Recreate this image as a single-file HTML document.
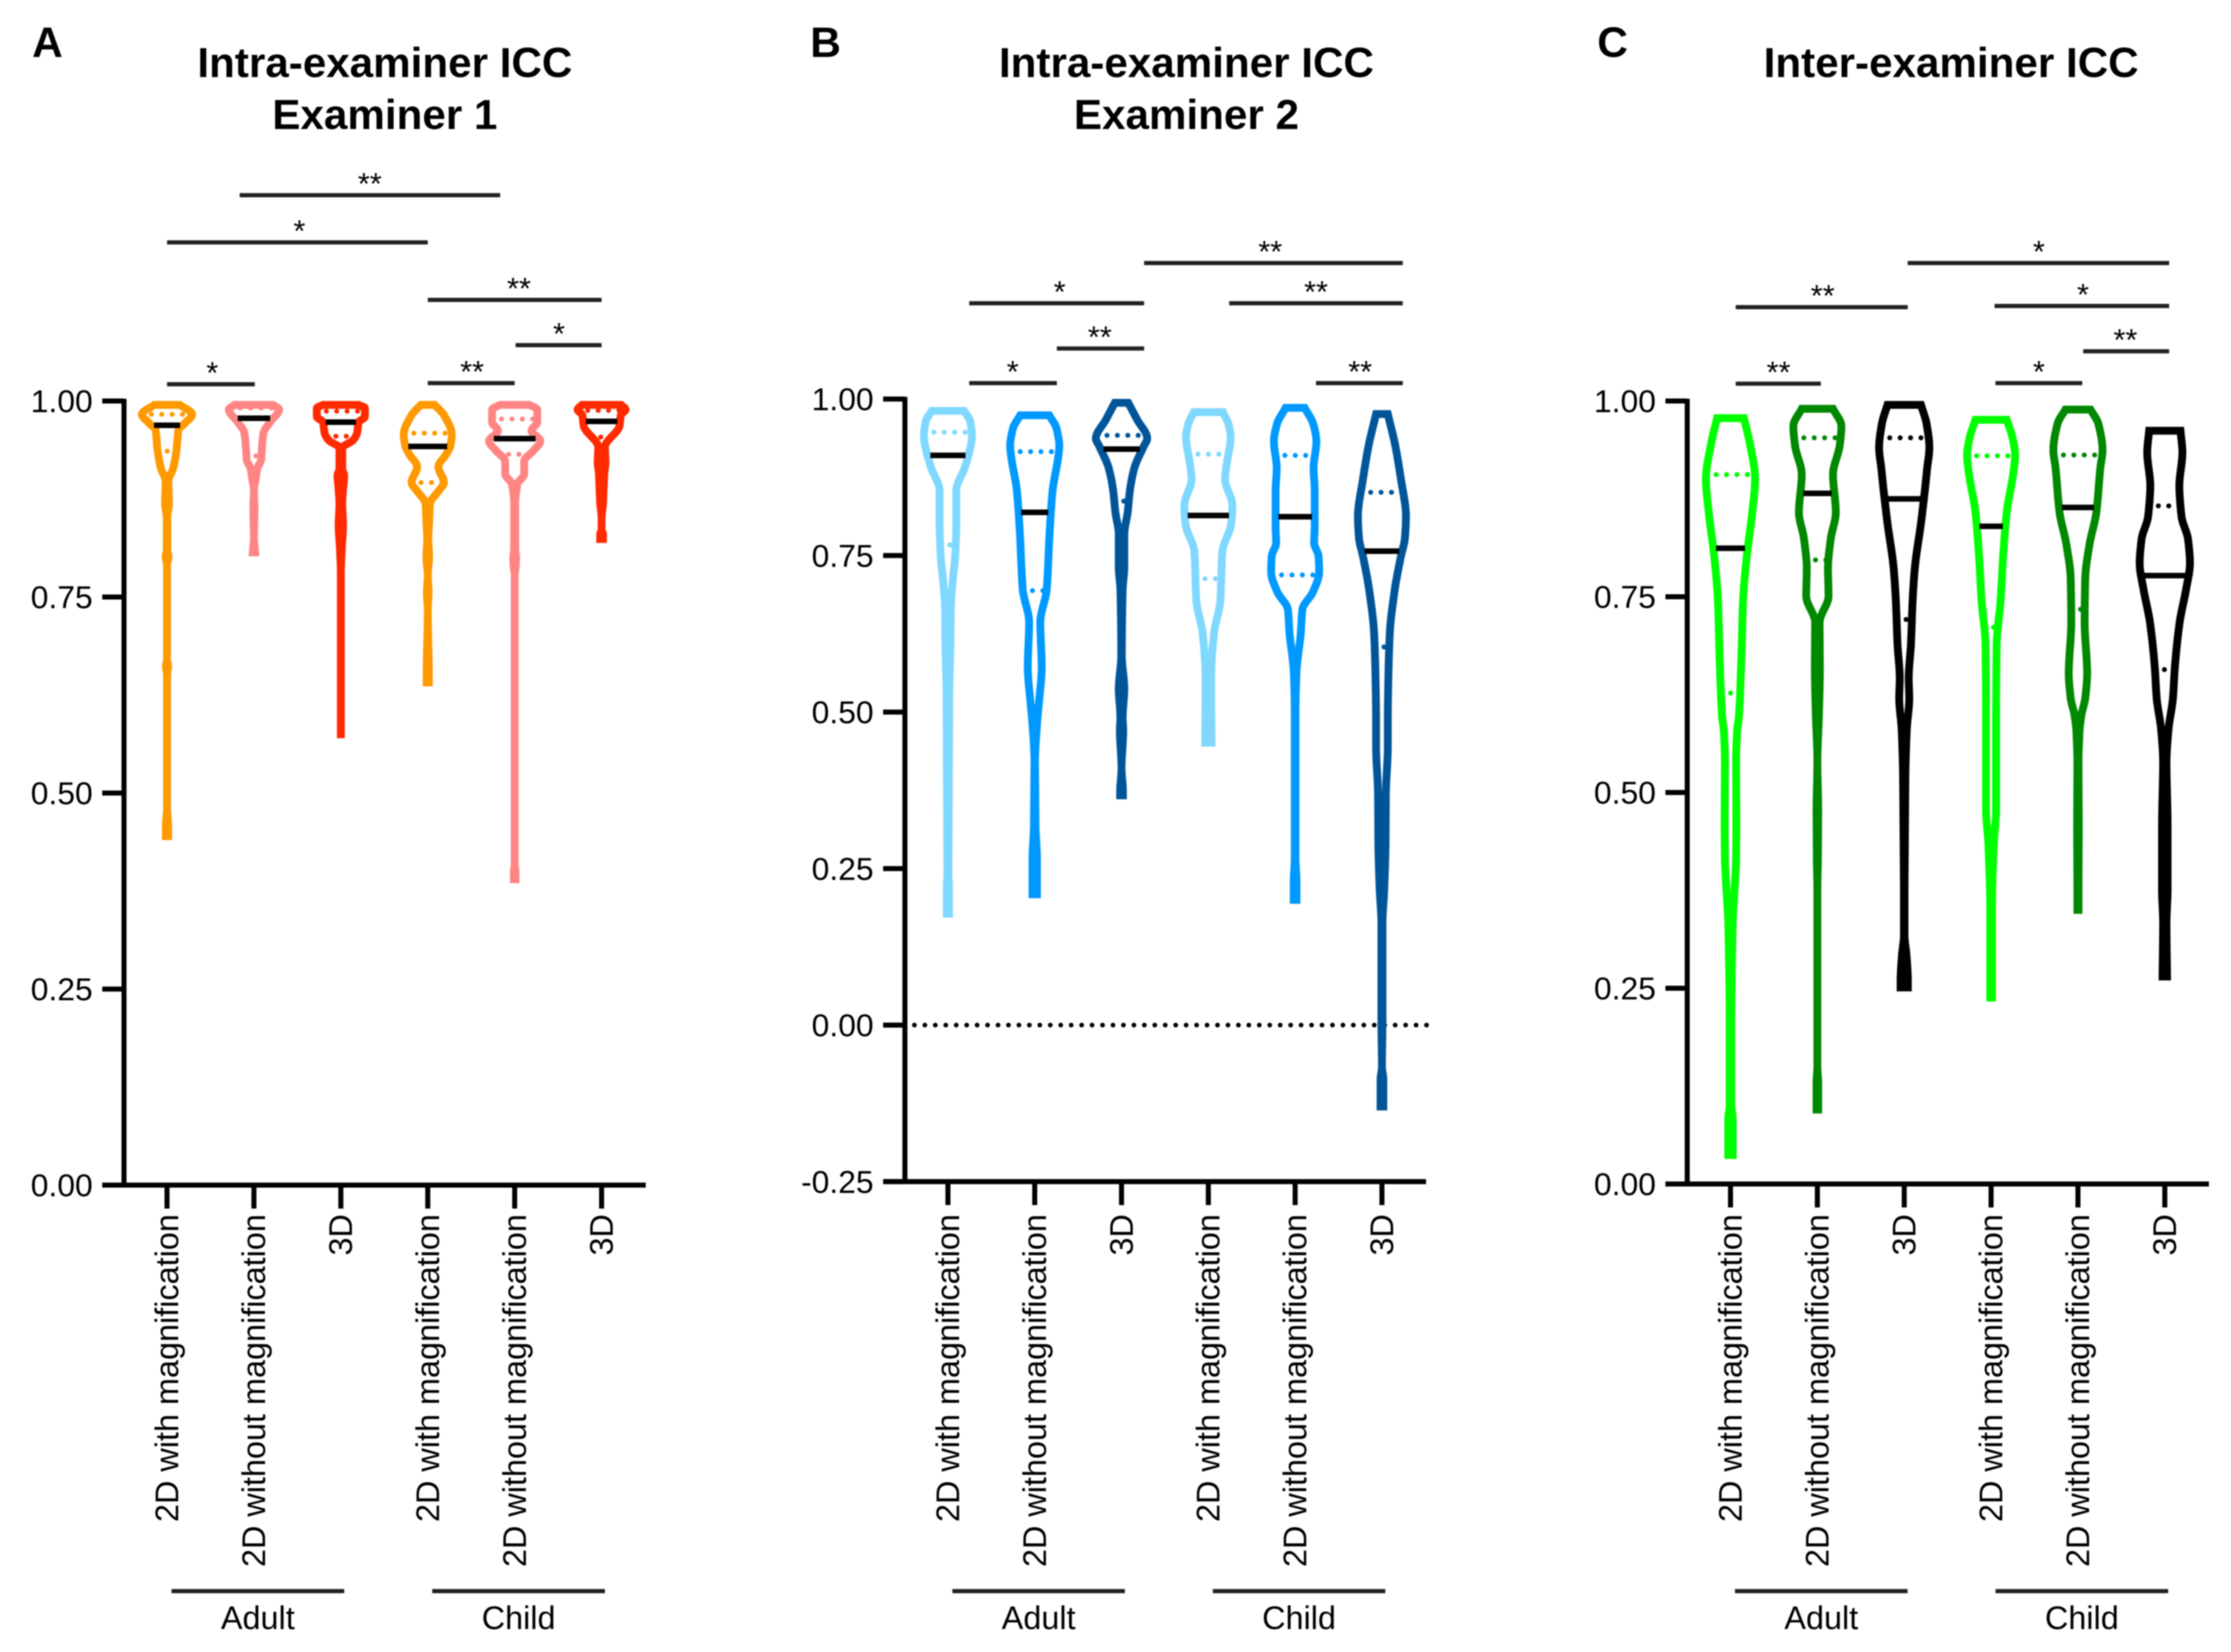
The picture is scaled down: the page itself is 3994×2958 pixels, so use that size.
<!DOCTYPE html>
<html lang="en">
<head>
<meta charset="utf-8">
<title>Intra- and inter-examiner ICC violin plots</title>
<style>
html,body{margin:0;padding:0;background:#fff;width:3994px;height:2958px;overflow:hidden}
svg{display:block;filter:blur(1.1px)}
text{font-family:"Liberation Sans",Arial,sans-serif;fill:#000}
.title{font-size:75.5px;font-weight:bold;text-anchor:middle}
.letter{font-size:76px;font-weight:bold;text-anchor:middle}
</style>
</head>
<body>
<svg id="figure" width="3994" height="2958" viewBox="0 0 3994 2958">
  <rect x="0" y="0" width="3994" height="2958" fill="#fff"/>
  <text class="letter" x="85" y="102">A</text>
  <text class="letter" x="1478" y="102">B</text>
  <text class="letter" x="2887" y="102">C</text>
  <text class="title" x="689" y="138">Intra-examiner ICC</text>
  <text class="title" x="689" y="231">Examiner 1</text>
  <text class="title" x="2124" y="138">Intra-examiner ICC</text>
  <text class="title" x="2124" y="231">Examiner 2</text>
  <text class="title" x="3493" y="138">Inter-examiner ICC</text>
</svg>
<script>
// ---- shared categories and tick labels ----
const categories = ['2D with magnification','2D without magnification','3D','2D with magnification','2D without magnification','3D'];
const groupLabels = ['Adult','Child'];
const groupStarts = [0,3];
const groupEnds = [2,5];
const ticksAC = [0,0.25,0.5,0.75,1];
const tickLabelsAC = ['0.00','0.25','0.50','0.75','1.00'];
const ticksB = [-0.25,0,0.25,0.5,0.75,1];
const tickLabelsB = ['-0.25','0.00','0.25','0.50','0.75','1.00'];

// ---- panel A series: value levels and density at each level ----
const a1Levels = [.995,.983,.971,.963,.937,.914,.898,.869,.851,.810,.801,.790,.670,.662,.650,.480,.460,.445];
const a1Density = [30,52,38,27.5,24,18,9.5,10.5,7.5,7.5,9.5,7,7,9,7,7,9,9];
const a2Levels = [.995,.989,.974,.959,.937,.925,.914,.900,.887,.864,.824,.812,.807];
const a2Density = [41.5,52,37,24,21,20,13,10,7,8,7,8.5,9];
const a3Levels = [.995,.991,.980,.973,.959,.950,.940,.914,.905,.887,.869,.842,.812,.780,.570];
const a3Density = [39,50,50,39,36,29,9.5,9.5,13,11,9.5,11,8.7,6.7,6.7];
const a4Levels = [.995,.982,.957,.943,.932,.916,.896,.885,.869,.846,.824,.801,.778,.756,.733,.650,.641];
const a4Density = [19.5,36,50,47.5,40,26,36,26,11,9.5,8,9.5,7,8.5,7,9,9];
const a5Levels = [.995,.989,.973,.962,.949,.937,.923,.907,.894,.869,.810,.801,.790,.778,.410,.400,.390];
const a5Density = [33.5,47.5,47.5,37,53,41,24,24,12,8,8,9.5,9,7,7,8.5,8.5];
const a6Levels = [.995,.989,.982,.968,.941,.921,.909,.869,.851,.835,.831,.824];
const a6Density = [42,50,41.5,39,13,14,12,9.5,6.7,7,9.5,9.5];
const aMedians = [.969,.978,.973,.942,.952,.974];
const aUpperQuartiles = [.983,.991,.987,.959,.977,.988];
const aLowerQuartiles = [.936,.930,.955,.896,.932,.954];

// ---- panel B series ----
const b1Levels = [.981,.964,.939,.918,.890,.854,.802,.749,.713,.664,.608,.537,.240,.223,.178];
const b1Density = [36,47,50,46,37,22,22,20,16,12,11.5,9.5,8,9,9];
const b2Levels = [.974,.953,.925,.907,.854,.784,.696,.643,.572,.519,.491,.420,.317,.266,.209];
const b2Density = [33,46,51,49,39,33.5,28.5,17,19.5,15,12,7.5,8.5,11,11];
const b3Levels = [.994,.967,.937,.925,.890,.854,.819,.784,.731,.696,.590,.537,.491,.471,.410,.374,.367];
const b3Density = [19,35,53,47,30,22,18,12,12,9,7.5,12,9,10,7,9.5,9.5];
const b4Levels = [.979,.960,.939,.897,.872,.830,.801,.756,.678,.625,.555,.519,.451];
const b4Density = [33,43,47,40,37,50,48,32,28.5,17,12,12,12.7];
const b5Levels = [.986,.960,.932,.890,.854,.798,.770,.749,.724,.692,.664,.625,.565,.502,.266,.230,.200];
const b5Density = [24,39.5,45,40,42,42,41,49,50,39,20,17,9.5,7.7,7.7,9.5,9.5];
const b6Levels = [.976,.925,.872,.812,.777,.749,.696,.625,.555,.491,.445,.369,.292,.215,.164,.010,-.066,-.087,-.130];
const b6Density = [17.5,31,41,50,48,41,30,21,18.5,17.5,17.5,14,13.5,11,8,8,7,9.5,9.5];
const bMedians = [.910,.819,.920,.814,.812,.757];
const bUpperQuartiles = [.947,.916,.942,.912,.910,.851];
const bLowerQuartiles = [.767,.694,.837,.713,.719,.604];

// ---- panel C series ----
const c1Levels = [.978,.948,.900,.858,.801,.745,.661,.596,.580,.539,.457,.416,.367,.334,.211,.100,.084,.037];
const c1Density = [31,41,51,46,36,29.5,26,22,19,17,17.5,17,13.5,11,8.5,8.5,11,11];
const c2Levels = [.990,.968,.943,.906,.858,.824,.787,.751,.717,.660,.604,.539,.477,.416,.375,.150,.129,.095];
const c2Density = [35,50,47,35,40,31,26,27,11,11.5,10,7,8.5,8,6.5,6.5,8.5,8.5];
const c3Levels = [.995,.971,.940,.914,.886,.844,.787,.745,.689,.646,.620,.580,.518,.375,.317,.293,.260,.251];
const c3Density = [37,47,52,48,44,37,26,22,19,15,16,11.5,9,7.5,7.5,11,13.5,13.5];
const c4Levels = [.976,.954,.931,.909,.858,.801,.745,.689,.596,.477,.436,.354,.238];
const c4Density = [35,45,50,47,35,28.5,24,17,16,16,12,8.5,8.5];
const c5Levels = [.989,.971,.937,.914,.858,.816,.773,.717,.652,.620,.600,.580,.539,.457,.375,.350];
const c5Density = [29.5,43.5,51,47,40,27.5,20,19,23.5,20,13.5,10,8,8.5,8,8];
const c6Levels = [.962,.934,.892,.852,.824,.793,.759,.717,.660,.620,.580,.539,.457,.375,.334,.265];
const c6Density = [35,38.5,33,37,48.5,52,45,33.5,25,21.5,13.5,10,12,12,10,11];
const cMedians = [.812,.882,.875,.840,.864,.777];
const cUpperQuartiles = [.906,.953,.953,.930,.931,.866];
const cLowerQuartiles = [.627,.797,.721,.711,.734,.657];

// ---- significance comparisons: from/to category, height in y units, stars and their category position ----
const aBracketFrom = [0.836,0,3,4.01,3,0];
const aBracketTo = [3.833,3,5,5,4,1.01];
const aBracketLevel = [1.2625,1.2023,1.1289,1.0712,1.0228,1.0214];
const aBracketStars = ['**','*','**','*','**','*'];
const aStarAt = [2.333,1.523,4.049,4.51,3.51,.521];
const bBracketFrom = [2.26,3.24,0.245,0.245,1.255,4.24];
const bBracketTo = [5.24,5.24,2.26,1.255,2.26,5.24];
const bBracketLevel = [1.2172,1.1530,1.1530,1.0254,1.0807,1.0254];
const bBracketStars = ['**','**','*','*','**','**'];
const bStarAt = [3.713,4.241,1.287,.746,1.750,4.749];
const cBracketFrom = [2.04,3.04,0.06,0.06,4.06,3.05];
const cBracketTo = [5.05,5.05,2.04,1.04,5.05,4.05];
const cBracketLevel = [1.1762,1.1213,1.1198,1.0221,1.0635,1.0228];
const cBracketStars = ['*','*','**','**','**','*'];
const cStarAt = [3.55,4.058,1.061,.553,4.547,3.55];

const svg = document.getElementById('figure');
const SVGNS = 'http://www.w3.org/2000/svg';
const STROKE = 14;

function make(tag, attrs, parent) {
  const el = document.createElementNS(SVGNS, tag);
  for (const k in attrs) el.setAttribute(k, attrs[k]);
  parent.appendChild(el);
  return el;
}

function densityAt(levels, density, v) {
  for (let i = 0; i < levels.length - 1; i++) {
    if (v <= levels[i] && v >= levels[i + 1]) {
      const t = (levels[i] - v) / (levels[i] - levels[i + 1]);
      return density[i] + t * (density[i + 1] - density[i]);
    }
  }
  return density[0];
}

// Monotone cubic through points (x as a function of y); returns bezier commands.
function smoothSide(xs, ys) {
  const n = xs.length;
  const sec = [];
  for (let i = 0; i < n - 1; i++) sec.push((xs[i + 1] - xs[i]) / (ys[i + 1] - ys[i]));
  const m = [];
  for (let i = 0; i < n; i++) {
    if (i === 0) m.push(sec[0]);
    else if (i === n - 1) m.push(sec[n - 2]);
    else if (sec[i - 1] * sec[i] <= 0) m.push(0);
    else m.push(2 * sec[i - 1] * sec[i] / (sec[i - 1] + sec[i]));
  }
  let d = '';
  for (let i = 0; i < n - 1; i++) {
    const dy = ys[i + 1] - ys[i];
    d += ' C' + (xs[i] + m[i] * dy / 3).toFixed(1) + ',' + (ys[i] + dy / 3).toFixed(1) + ' ' +
         (xs[i + 1] - m[i + 1] * dy / 3).toFixed(1) + ',' + (ys[i + 1] - dy / 3).toFixed(1) + ' ' +
         xs[i + 1].toFixed(1) + ',' + ys[i + 1].toFixed(1);
  }
  return d;
}

function drawPanel(p) {
  const g = make('g', {}, svg);
  
  

  const yScale = v => p.yZero - v * p.yUnit;
  const xScale = i => p.xFirst + i * p.xStep;
  const tickLeft = p.axisX - 39;
  const axisRight = xScale(5) + 79;

  // reference line
  if (p.zeroLine) {
    const zero = make('line', {x1: p.axisX + 17, x2: axisRight + 5, y1: yScale(0), y2: yScale(0), stroke: '#000', 'stroke-width': 8.5, 'stroke-linecap': 'round', 'stroke-dasharray': '0.01 18.7'}, g);
    
    
  }

  // y axis
  const yAxis = make('line', {x1: p.axisX, x2: p.axisX, y1: yScale(1) - 4, y2: yScale(p.ticks[0]) + 4, stroke: '#000', 'stroke-width': 9}, g);
  
  
  p.ticks.forEach((t, i) => {
    const tick = make('line', {x1: tickLeft, x2: p.axisX, y1: yScale(t), y2: yScale(t), stroke: '#000', 'stroke-width': 9}, g);
    
    
    const label = make('text', {x: tickLeft - 17, y: yScale(t) + 20, 'text-anchor': 'end', 'font-size': 57}, g);
    
    
    label.textContent = p.tickLabels[i];
  });

  // x axis
  const xAxis = make('line', {x1: tickLeft, x2: axisRight, y1: yScale(p.ticks[0]), y2: yScale(p.ticks[0]), stroke: '#000', 'stroke-width': 9}, g);
  
  
  const axisY = yScale(p.ticks[0]);
  categories.forEach((c, i) => {
    const tick = make('line', {x1: xScale(i), x2: xScale(i), y1: axisY, y2: axisY + 42, stroke: '#000', 'stroke-width': 9}, g);
    
    
    const label = make('text', {transform: 'translate(' + (xScale(i) + 20) + ',2174) rotate(-90)', 'text-anchor': 'end', 'font-size': 58}, g);
    
    
    label.textContent = c;
  });

  // groups
  groupLabels.forEach((name, i) => {
    const a = xScale(groupStarts[i]) + 8, b = xScale(groupEnds[i]) + 6;
    const line = make('line', {x1: a, x2: b, y1: 2849, y2: 2849, stroke: '#222', 'stroke-width': 7.5}, g);
    
    
    const label = make('text', {x: (a + b) / 2, y: 2917, 'text-anchor': 'middle', 'font-size': 58}, g);
    
    
    label.textContent = name;
  });

  // violins
  p.levels.forEach((levels, i) => {
    const density = p.density[i];
    const cx = xScale(i);
    const colour = p.colours[i];
    const halfWidth = d => Math.max(d - STROKE / 2, 0);
    const ys = levels.map(v => yScale(v));
    const rightX = density.map(d => cx + halfWidth(d));
    const leftX = density.map(d => cx - halfWidth(d)).reverse();
    const ysRev = ys.slice().reverse();
    const d = 'M' + rightX[0].toFixed(1) + ',' + ys[0].toFixed(1) + smoothSide(rightX, ys) +
              ' L' + leftX[0].toFixed(1) + ',' + ysRev[0].toFixed(1) + smoothSide(leftX, ysRev) + ' Z';
    const vg = make('g', {}, g);
    
    

    const outline = make('path', {d: d, fill: 'none', stroke: colour, 'stroke-width': STROKE, 'stroke-linejoin': 'miter', 'stroke-miterlimit': 2}, vg);
    
    

    [p.upper[i], p.lower[i]].forEach(q => {
      const inner = Math.max(densityAt(levels, density, q) - STROKE, 1);
      const dots = make('line', {x1: cx - inner + 10, x2: cx + inner + 4, y1: yScale(q), y2: yScale(q), stroke: colour, 'stroke-width': 9, 'stroke-linecap': 'round', 'stroke-dasharray': '0.01 18.6'}, vg);
      
      
    });

    const mInner = Math.max(densityAt(levels, density, p.medians[i]) - 12, 1);
    const median = make('line', {x1: cx - mInner, x2: cx + mInner, y1: yScale(p.medians[i]), y2: yScale(p.medians[i]), stroke: '#000', 'stroke-width': 10}, vg);
    
    
  });

  // significance brackets
  p.bracketFrom.forEach((from, i) => {
    const a = xScale(from), b = xScale(p.bracketTo[i]), y = yScale(p.bracketLevel[i]);
    const bar = make('line', {x1: a, x2: b, y1: y, y2: y, stroke: '#222', 'stroke-width': 7.5}, g);
    
    
    const star = make('text', {x: xScale(p.starAt[i]), y: y - 2, 'text-anchor': 'middle', 'font-size': 55}, g);
    
    
    star.textContent = p.bracketStars[i];
  });
}

drawPanel({
  id: 'a', axisX: 222, yZero: 2122, yUnit: 1404, xFirst: 299, xStep: 155.6,
  ticks: ticksAC, tickLabels: tickLabelsAC, zeroLine: false,
  colours: ['#FF9900','#FF8585','#FF2A00','#FF9900','#FF8585','#FF2A00'],
  levels: [a1Levels,a2Levels,a3Levels,a4Levels,a5Levels,a6Levels],
  density: [a1Density,a2Density,a3Density,a4Density,a5Density,a6Density],
  medians: aMedians, upper: aUpperQuartiles, lower: aLowerQuartiles,
  bracketFrom: aBracketFrom, bracketTo: aBracketTo, bracketLevel: aBracketLevel, bracketStars: aBracketStars, starAt: aStarAt
});
drawPanel({
  id: 'b', axisX: 1620, yZero: 1835.5, yUnit: 1121, xFirst: 1697, xStep: 155.4,
  ticks: ticksB, tickLabels: tickLabelsB, zeroLine: true,
  colours: ['#80D8FF','#0099FF','#005599','#80D8FF','#0099FF','#005599'],
  levels: [b1Levels,b2Levels,b3Levels,b4Levels,b5Levels,b6Levels],
  density: [b1Density,b2Density,b3Density,b4Density,b5Density,b6Density],
  medians: bMedians, upper: bUpperQuartiles, lower: bLowerQuartiles,
  bracketFrom: bBracketFrom, bracketTo: bBracketTo, bracketLevel: bBracketLevel, bracketStars: bBracketStars, starAt: bStarAt
});
drawPanel({
  id: 'c', axisX: 3020.5, yZero: 2120, yUnit: 1402, xFirst: 3098, xStep: 155.5,
  ticks: ticksAC, tickLabels: tickLabelsAC, zeroLine: false,
  colours: ['#00FF00','#008800','#000000','#00FF00','#008800','#000000'],
  levels: [c1Levels,c2Levels,c3Levels,c4Levels,c5Levels,c6Levels],
  density: [c1Density,c2Density,c3Density,c4Density,c5Density,c6Density],
  medians: cMedians, upper: cUpperQuartiles, lower: cLowerQuartiles,
  bracketFrom: cBracketFrom, bracketTo: cBracketTo, bracketLevel: cBracketLevel, bracketStars: cBracketStars, starAt: cStarAt
});
</script>
</body>
</html>
